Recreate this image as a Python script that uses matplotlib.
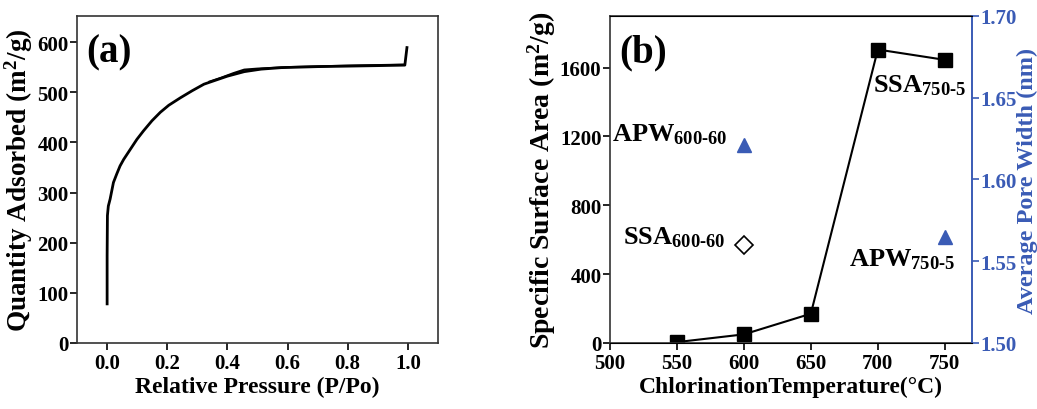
import matplotlib
matplotlib.use('Agg')
import matplotlib.pyplot as plt
import matplotlib.ticker as ticker

plt.rcParams['font.family'] = 'Liberation Serif'
plt.rcParams['font.weight'] = 'bold'
plt.rcParams['axes.labelweight'] = 'bold'
plt.rcParams['mathtext.fontset'] = 'custom'
plt.rcParams['mathtext.rm'] = 'Liberation Serif:bold'
plt.rcParams['mathtext.bf'] = 'Liberation Serif:bold'
plt.rcParams['mathtext.it'] = 'Liberation Serif:bold'

BLUE = '#3a5bb5'

# (a) N2 isotherm, adsorption and desorption branches
ads_p = [0.0, 0.0, 0.001, 0.004, 0.01, 0.021, 0.032, 0.043, 0.055, 0.077,
         0.099, 0.121, 0.149, 0.177, 0.205, 0.244, 0.283, 0.322, 0.361, 0.4,
         0.456, 0.512, 0.579, 0.7, 0.8, 0.9, 0.99, 0.997]
ads_q = [78, 174, 254, 273, 287, 320, 337, 353, 366, 386,
         406, 423, 443, 460, 474, 489, 503, 516, 524, 532,
         541, 546, 549, 551, 552, 553, 554, 589]
des_p = [0.99, 0.8, 0.6, 0.5, 0.456, 0.42, 0.38, 0.34]
des_q = [555, 553, 550, 547, 545, 538, 529, 521]

# (b) surface area vs chlorination temperature
temps = [550, 600, 650, 700, 750]
ssa = [5, 50, 170, 1705, 1645]
ssa_600_60 = 570
apw_temps = [600, 750]
apw = [1.621, 1.565]

fig = plt.figure(figsize=(10.37, 4.10), dpi=100)

ax1 = fig.add_axes([0.0743, 0.161, 0.348, 0.7976])
ax1.plot(ads_p, ads_q, color='black', lw=2, solid_joinstyle='round')
ax1.plot(des_p, des_q, color='black', lw=1.5, solid_joinstyle='round')
ax1.set_xlim(-0.1, 1.1)
ax1.set_ylim(0, 652)
ax1.xaxis.set_major_locator(ticker.MultipleLocator(0.2))
ax1.xaxis.set_major_formatter(ticker.FormatStrFormatter('%.1f'))
ax1.yaxis.set_major_locator(ticker.MultipleLocator(100))
ax1.set_xlabel('Relative Pressure (P/Po)', fontsize=17, labelpad=2)
ax1.set_ylabel('Quantity Adsorbed (m$^2$/g)', fontsize=19.5, labelpad=2)
ax1.text(0.025, 0.89, '(a)', transform=ax1.transAxes, fontsize=28,
         va='center', ha='left')

ax2 = fig.add_axes([0.588, 0.161, 0.349, 0.7976])
ax2.plot(temps, ssa, color='black', lw=1.5, marker='s', ms=10)
ax2.plot([600], [ssa_600_60], linestyle='none', marker='D', ms=9,
         mfc='white', mec='black', mew=1.2)
ax2.set_xlim(500, 770)
ax2.set_ylim(0, 1900)
ax2.xaxis.set_major_locator(ticker.MultipleLocator(50))
ax2.yaxis.set_major_locator(ticker.MultipleLocator(400))
ax2.set_xlabel('ChlorinationTemperature(\u00b0C)', fontsize=17, labelpad=2)
ax2.set_ylabel('Specific Surface Area (m$^2$/g)', fontsize=20, labelpad=1)
ax2.text(0.025, 0.89, '(b)', transform=ax2.transAxes, fontsize=28,
         va='center', ha='left')

ax2.text(588, 1175, r'APW$_{600\text{-}60}$', fontsize=19, ha='right', va='baseline')
ax2.text(586, 576, r'SSA$_{600\text{-}60}$', fontsize=19, ha='right', va='baseline')
ax2.text(766, 1460, r'SSA$_{750\text{-}5}$', fontsize=19, ha='right', va='baseline')
ax2.text(758, 448, r'APW$_{750\text{-}5}$', fontsize=19, ha='right', va='baseline')

ax3 = ax2.twinx()
ax3.plot(apw_temps, apw, linestyle='none', marker='^', ms=10, color=BLUE)
ax3.set_ylim(1.5, 1.7)
ax3.yaxis.set_major_locator(ticker.MultipleLocator(0.05))
ax3.yaxis.set_major_formatter(ticker.FormatStrFormatter('%.2f'))
ax3.set_ylabel('Average Pore Width (nm)', fontsize=17.5, color=BLUE, labelpad=0)
ax3.tick_params(axis='y', colors=BLUE, labelsize=15, direction='out',
                length=5, width=1.2, pad=1)
ax3.spines['right'].set_color(BLUE)
ax3.spines['right'].set_linewidth(1.2)

for ax in (ax1, ax2):
    ax.tick_params(direction='out', length=5, width=1.2, labelsize=15, pad=2)
    ax.tick_params(axis='y', pad=1)
    for sp in ax.spines.values():
        sp.set_linewidth(1.2)
        sp.set_color('#333333')
ax2.spines['right'].set_color(BLUE)
ax3.spines['left'].set_visible(False)

fig.savefig('out.png', dpi=100)
